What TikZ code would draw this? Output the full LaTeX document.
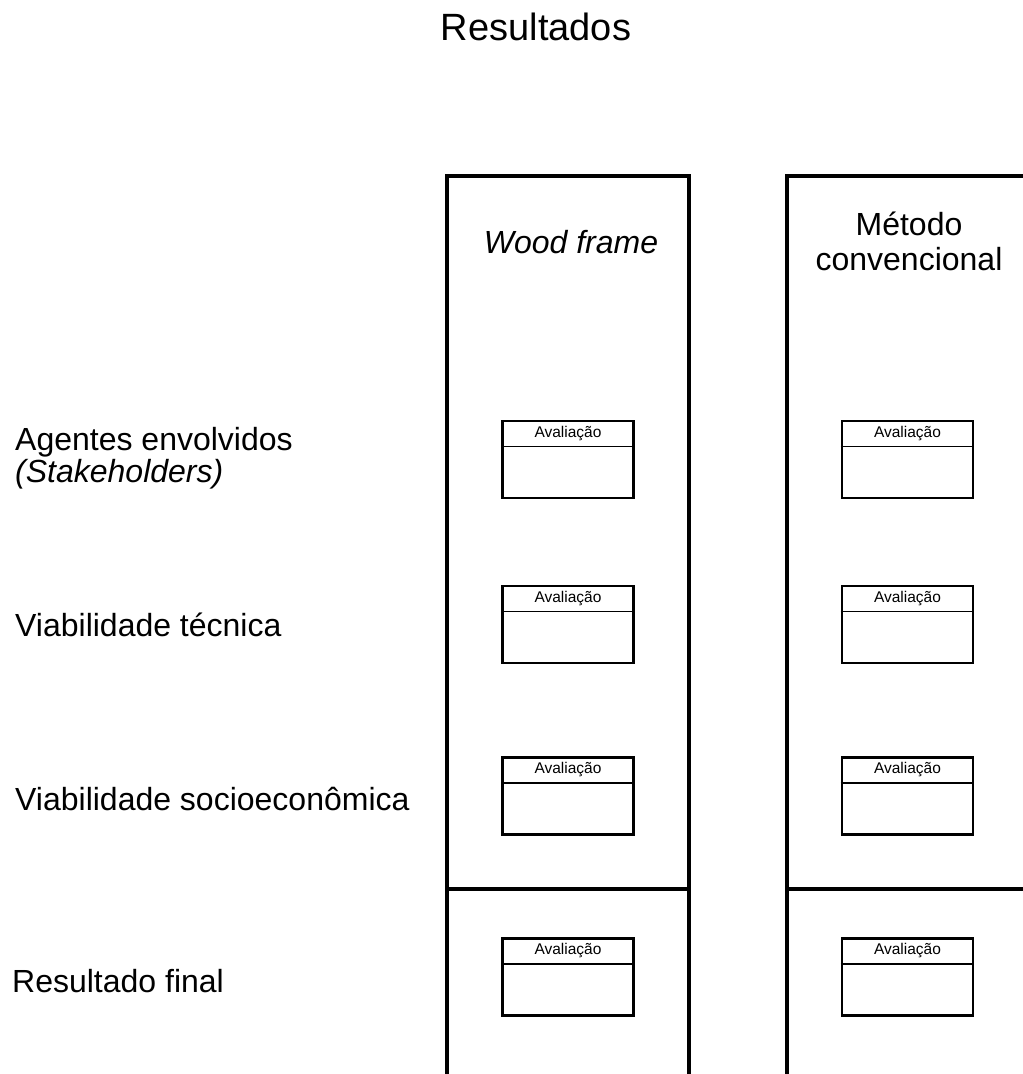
\documentclass[tikz,border=0pt]{standalone}
\usepackage{fontspec}
\setmainfont{Liberation Sans}
\begin{document}
\begin{tikzpicture}[x=1pt,y=-1pt,
  colbox/.style={draw=black,line width=3.2pt,inner sep=0pt},
  evalbox/.style={draw=black,line width=2.8pt,fill=white,inner sep=0pt,minimum width=131pt,minimum height=77pt},
  evallabel/.style={font=\fontsize{15.5}{18}\selectfont,inner sep=0pt},
  rowlabel/.style={font=\fontsize{32}{36}\selectfont,anchor=base west,inner sep=0pt,align=left},
  headlabel/.style={font=\fontsize{32}{35}\selectfont,inner sep=0pt,align=center}]
\useasboundingbox (0,0) rectangle (1023,1074);
\clip (0,0) rectangle (1023,1074);
\fill[white] (0,0) rectangle (1023,1074);
% title
\node[font=\fontsize{38}{40}\selectfont,anchor=base,inner sep=0pt] (title) at (536,40) {Resultados};
% columns
\node[colbox,minimum width=242pt,minimum height=713pt] (wfTop) at (568,532.5) {};
\node[colbox,minimum width=242pt,minimum height=220pt] (wfBot) at (568,999) {};
\node[colbox,minimum width=280pt,minimum height=713pt] (mcTop) at (927,532.5) {};
\node[colbox,minimum width=280pt,minimum height=220pt] (mcBot) at (927,999) {};
% column heads
\node[headlabel,anchor=base] (wfHead) at (571,253) {\itshape Wood frame};
\node[headlabel,anchor=base] (mcHead1) at (909,235) {Método};
\node[headlabel,anchor=base] (mcHead2) at (909,270) {convencional};
% row labels
\node[rowlabel] (rA) at (15,450) {Agentes envolvidos};
\node[rowlabel] (rA2) at (15,482) {\itshape (Stakeholders)};
\node[rowlabel] (rB) at (15,636) {Viabilidade técnica};
\node[rowlabel] (rC) at (15,810) {Viabilidade socioeconômica};
\node[rowlabel] (rD) at (12,992) {Resultado final};
% evaluation boxes
\foreach \nm/\cx/\cy in {wa/568/459.5, wb/568/624.5, wc/568/796, wd/568/977,
                         ma/907.5/459.5, mb/907.5/624.5, mc/907.5/796, md/907.5/977}{
  \node[evalbox] (\nm) at (\cx,\cy) {};
  \draw[line width=1.3pt] ([yshift=-27pt]\nm.north west) -- ([yshift=-27pt]\nm.north east);
  \node[evallabel] (\nm-t) at ([yshift=-13.5pt]\nm.north) {Avaliação};
}
\end{tikzpicture}
\end{document}
